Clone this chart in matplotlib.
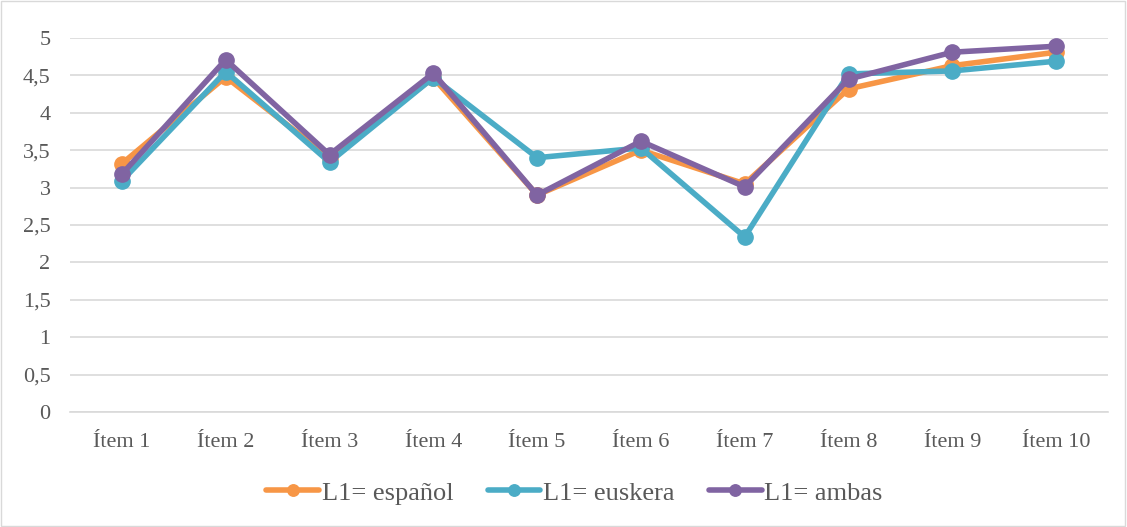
import matplotlib
matplotlib.use("Agg")
import matplotlib.pyplot as plt

# Mean scores per item, grouped by first language
items = ["Ítem 1", "Ítem 2", "Ítem 3", "Ítem 4", "Ítem 5",
         "Ítem 6", "Ítem 7", "Ítem 8", "Ítem 9", "Ítem 10"]
espanol = [3.32, 4.48, 3.40, 4.47, 2.90, 3.50, 3.05, 4.32, 4.63, 4.81]
euskera = [3.09, 4.55, 3.34, 4.47, 3.40, 3.53, 2.34, 4.52, 4.56, 4.69]
ambas = [3.18, 4.71, 3.44, 4.53, 2.90, 3.62, 3.01, 4.45, 4.81, 4.89]

plt.rcParams['font.family'] = ['Liberation Serif', 'DejaVu Serif']

fig = plt.figure(figsize=(11.27, 5.27), dpi=100)
ax = fig.add_axes([70 / 1127, 1 - 412 / 527, 1038 / 1127, 374 / 527])

x = list(range(len(items)))
series = [(espanol, "L1= español", "#F79646"),
          (euskera, "L1= euskera", "#4BACC6"),
          (ambas, "L1= ambas", "#8064A2")]
for vals, name, col in series:
    ax.plot(x, vals, color=col, lw=4, marker="o", markersize=11,
            label=name, clip_on=False, solid_capstyle="round")

ax.set_xlim(-0.5, len(items) - 0.5)
ax.set_ylim(0, 5)
ax.set_yticks([0, 0.5, 1, 1.5, 2, 2.5, 3, 3.5, 4, 4.5, 5])
ax.set_yticklabels(["0", "0,5", "1", "1,5", "2", "2,5", "3", "3,5", "4", "4,5", "5"])
ax.set_xticks(x)
ax.set_xticklabels(items)
ax.tick_params(axis="both", length=0, labelsize=16, colors="#595959")
ax.tick_params(axis="y", pad=14)
ax.tick_params(axis="x", pad=15)
ax.grid(axis="y", color="#D9D9D9", lw=1.2)
ax.set_axisbelow(True)
for s in ["top", "right", "left"]:
    ax.spines[s].set_visible(False)
ax.spines["bottom"].set_color("#D9D9D9")
ax.spines["bottom"].set_linewidth(1.2)

ax.legend(loc="center", bbox_to_anchor=(0.486, -0.216), ncol=3,
          frameon=False, fontsize=19, labelcolor="#595959",
          handlelength=2.0, handletextpad=0.1, columnspacing=1.3,
          markerscale=0.75, borderpad=0)

# thin frame round the whole chart
fig.patches.append(plt.Rectangle((0.001, 0.001), 0.997, 0.997,
                                 transform=fig.transFigure, fill=False,
                                 edgecolor="#D9D9D9", lw=1))

fig.savefig("out.png", dpi=100)
